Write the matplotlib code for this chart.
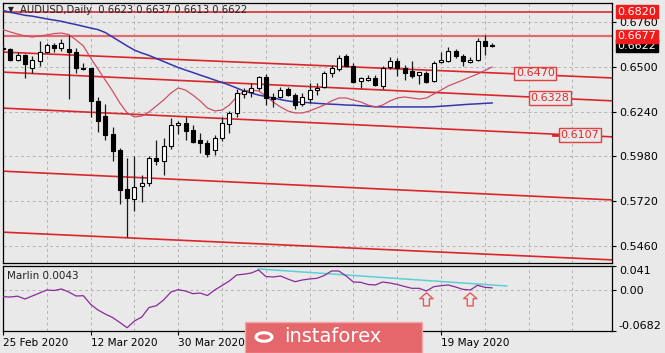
import numpy as np
import matplotlib.pyplot as plt
from matplotlib.patches import Rectangle, Circle
from matplotlib.transforms import blended_transform_factory

# daily AUDUSD bars, 25 Feb 2020 .. 28 May 2020
opens = [0.6610, 0.6603, 0.6539, 0.6568, 0.6491, 0.6534, 0.6584, 0.6627, 0.6611, 0.6603,
         0.6588, 0.6491, 0.6491, 0.6302, 0.6215, 0.6108, 0.6017, 0.5791, 0.5731, 0.5808,
         0.5824, 0.5969, 0.5955, 0.6040, 0.6160, 0.6176, 0.6133, 0.6075, 0.6060, 0.6017,
         0.6085, 0.6166, 0.6230, 0.6342, 0.6355, 0.6375, 0.6443, 0.6327, 0.6327, 0.6369,
         0.6336, 0.6284, 0.6311, 0.6365, 0.6384, 0.6462, 0.6485, 0.6563, 0.6505, 0.6419,
         0.6425, 0.6435, 0.6387, 0.6497, 0.6532, 0.6493, 0.6477, 0.6454, 0.6464, 0.6416,
         0.6526, 0.6532, 0.6593, 0.6561, 0.6528, 0.6541, 0.6651, 0.6623]
highs = [0.6625, 0.6609, 0.6588, 0.6574, 0.6564, 0.6650, 0.6636, 0.6636, 0.6661, 0.6685,
         0.6607, 0.6520, 0.6495, 0.6327, 0.6282, 0.6152, 0.6027, 0.5971, 0.5984, 0.5872,
         0.5982, 0.6075, 0.6085, 0.6201, 0.6187, 0.6207, 0.6162, 0.6118, 0.6075, 0.6104,
         0.6207, 0.6245, 0.6369, 0.6375, 0.6408, 0.6447, 0.6456, 0.6350, 0.6384, 0.6384,
         0.6350, 0.6346, 0.6404, 0.6404, 0.6477, 0.6510, 0.6568, 0.6574, 0.6520, 0.6439,
         0.6454, 0.6454, 0.6503, 0.6555, 0.6551, 0.6512, 0.6532, 0.6470, 0.6477, 0.6532,
         0.6586, 0.6613, 0.6605, 0.6574, 0.6555, 0.6667, 0.6686, 0.6637]
lows = [0.6590, 0.6533, 0.6535, 0.6435, 0.6462, 0.6506, 0.6578, 0.6588, 0.6592, 0.6313,
        0.6462, 0.6481, 0.6210, 0.6120, 0.6075, 0.5953, 0.5702, 0.5512, 0.5665, 0.5717,
        0.5808, 0.5930, 0.5872, 0.6021, 0.6110, 0.6075, 0.6060, 0.6001, 0.5978, 0.5988,
        0.6069, 0.6118, 0.6210, 0.6317, 0.6323, 0.6365, 0.6278, 0.6268, 0.6317, 0.6331,
        0.6253, 0.6274, 0.6288, 0.6336, 0.6375, 0.6443, 0.6477, 0.6497, 0.6408, 0.6375,
        0.6420, 0.6387, 0.6371, 0.6489, 0.6445, 0.6425, 0.6435, 0.6400, 0.6406, 0.6410,
        0.6522, 0.6526, 0.6551, 0.6506, 0.6522, 0.6535, 0.6570, 0.6613]
closes = [0.6603, 0.6539, 0.6568, 0.6515, 0.6539, 0.6584, 0.6627, 0.6611, 0.6636, 0.6588,
          0.6495, 0.6485, 0.6302, 0.6185, 0.6104, 0.6011, 0.5785, 0.5739, 0.5804, 0.5827,
          0.5969, 0.5955, 0.6040, 0.6162, 0.6176, 0.6127, 0.6065, 0.6060, 0.5992, 0.6085,
          0.6172, 0.6230, 0.6346, 0.6361, 0.6379, 0.6443, 0.6317, 0.6311, 0.6365, 0.6336,
          0.6278, 0.6323, 0.6365, 0.6379, 0.6466, 0.6491, 0.6549, 0.6505, 0.6414, 0.6433,
          0.6433, 0.6396, 0.6493, 0.6532, 0.6493, 0.6464, 0.6445, 0.6468, 0.6410, 0.6522,
          0.6541, 0.6593, 0.6561, 0.6532, 0.6541, 0.6651, 0.6619, 0.6622]

ma_fast = [0.6716, 0.6702, 0.6690, 0.6679, 0.6673, 0.6679, 0.6685, 0.6693, 0.6696, 0.6687,
           0.6656, 0.6621, 0.6551, 0.6487, 0.6423, 0.6360, 0.6290, 0.6232, 0.6209, 0.6214,
           0.6238, 0.6273, 0.6307, 0.6348, 0.6377, 0.6365, 0.6336, 0.6302, 0.6261, 0.6244,
           0.6249, 0.6278, 0.6325, 0.6360, 0.6365, 0.6360, 0.6331, 0.6296, 0.6267, 0.6244,
           0.6232, 0.6232, 0.6244, 0.6261, 0.6278, 0.6302, 0.6319, 0.6319, 0.6307, 0.6296,
           0.6278, 0.6267, 0.6278, 0.6302, 0.6319, 0.6325, 0.6319, 0.6313, 0.6319, 0.6342,
           0.6365, 0.6389, 0.6406, 0.6423, 0.6441, 0.6458, 0.6479, 0.6499]
ma_slow = [0.6827, 0.6816, 0.6808, 0.6799, 0.6794, 0.6786, 0.6778, 0.6771, 0.6764, 0.6754,
           0.6745, 0.6735, 0.6725, 0.6716, 0.6699, 0.6673, 0.6647, 0.6621, 0.6597, 0.6580,
           0.6566, 0.6548, 0.6531, 0.6513, 0.6496, 0.6481, 0.6467, 0.6452, 0.6438, 0.6423,
           0.6409, 0.6394, 0.6377, 0.6360, 0.6348, 0.6336, 0.6328, 0.6319, 0.6310, 0.6302,
           0.6296, 0.6294, 0.6291, 0.6288, 0.6285, 0.6283, 0.6281, 0.6278, 0.6277, 0.6274,
           0.6271, 0.6268, 0.6267, 0.6267, 0.6267, 0.6267, 0.6267, 0.6267, 0.6267, 0.6268,
           0.6271, 0.6274, 0.6277, 0.6280, 0.6283, 0.6285, 0.6288, 0.6290]

marlin = [-0.0106, -0.0111, -0.0097, -0.0145, -0.0094, -0.0044, 0.0007, -0.0002, 0.0024, -0.0027,
          -0.0094, -0.0089, -0.0234, -0.0329, -0.0397, -0.0455, -0.0539, -0.0627, -0.0514, -0.0447,
          -0.0287, -0.0257, -0.0161, -0.0027, 0.0012, -0.0010, -0.0055, -0.0044, -0.0086, 0.0007,
          0.0082, 0.0158, 0.0259, 0.0272, 0.0292, 0.0343, 0.0234, 0.0225, 0.0242, 0.0192,
          0.0146, 0.0175, 0.0192, 0.0203, 0.0250, 0.0326, 0.0326, 0.0242, 0.0141, 0.0136,
          0.0099, 0.0091, 0.0141, 0.0124, 0.0099, 0.0066, 0.0035, 0.0035, -0.0010, 0.0062,
          0.0079, 0.0091, 0.0057, 0.0018, 0.0007, 0.0086, 0.0052, 0.0043]

# channel lines: price at left edge / right edge of the chart
chan_x = [-0.4, 83.6]
chan_start = [0.6586, 0.6470, 0.6261, 0.5895, 0.5541]
chan_end = [0.6435, 0.6302, 0.6093, 0.5727, 0.5379]
levels = [0.6820, 0.6677]
level_tags = ["0.6470", "0.6328", "0.6107"]
marlin_trend_x = [35, 69]
marlin_trend_y = [0.0360, 0.0074]
arrow_x = [58, 64]
arrow_y = [-0.0150, -0.0150]

# 15 Apr and 1 May sit under the watermark, so their labels stay blank
date_pos = [0, 12, 24, 36, 48, 60]
date_labels = ["25 Feb 2020", "12 Mar 2020", "30 Mar 2020", "", "", "19 May 2020"]
price_ticks = [0.6760, 0.6500, 0.6240, 0.5980, 0.5720, 0.5460]

bg = '#e9e9e9'
fig = plt.figure(figsize=(6.65, 3.53), dpi=100)
fig.patch.set_facecolor(bg)
ax = fig.add_axes([0.0038, 0.2550, 0.9165, 0.7365])
ax2 = fig.add_axes([0.0038, 0.0623, 0.9165, 0.1842], sharex=ax)

for a in (ax, ax2):
    a.set_facecolor(bg)
    for s in a.spines.values():
        s.set_color('black')
        s.set_linewidth(0.9)
    for gx in range(0, 90, 6):
        a.axvline(gx, color='#b4b4b4', lw=0.7, ls=(0, (3, 3)), zorder=0)

x = np.arange(len(opens))
o = np.array(opens); c = np.array(closes)
h = np.array(highs); l = np.array(lows)
up = c >= o
bot = np.minimum(o, c)
hgt = np.maximum(np.abs(c - o), 0.0003)

ax.vlines(x, l, h, color='#1a1a1a', lw=0.9, zorder=4)
ax.bar(x[up], hgt[up], bottom=bot[up], width=0.55, color='white', edgecolor='black', lw=0.8, zorder=5)
ax.bar(x[~up], hgt[~up], bottom=bot[~up], width=0.55, color='black', edgecolor='black', lw=0.8, zorder=5)

ax.plot(x, ma_slow, color='#3535b0', lw=1.1, zorder=3)
ax.plot(x, ma_fast, color='#d0485e', lw=0.85, zorder=3)

for s, e in zip(chan_start, chan_end):
    ax.plot(chan_x, [s, e], color='#d9262a', lw=1.2, zorder=2)
ax.axhline(levels[0], color='#d32026', lw=1.1, zorder=2)
ax.axhline(levels[1], color='#e06a6e', lw=1.6, zorder=2)

for py in price_ticks:
    ax.axhline(py, color='#b4b4b4', lw=0.7, ls=(0, (3, 3)), zorder=0)

# tags on the channel lines
tag_pos = [(72.9, 0.6463), (74.9, 0.6319), (79.0, 0.6104)]
for t, (tx, ty) in zip(level_tags, tag_pos):
    ax.text(tx, ty, t, color='#e02a2a', fontsize=8, ha='center', va='center', zorder=6,
            bbox=dict(boxstyle='square,pad=0.15', fc=bg, ec='#e04040', lw=1.0))
ax.plot([75.3, 76.7], [0.6104, 0.6104], color='#d9262a', lw=2, zorder=5)

ax.set_xlim(-0.07, 83.42)
ax.set_ylim(0.53613, 0.68703)
ax.yaxis.tick_right()
ax.set_yticks(price_ticks)
ax.set_yticklabels([f"{p:.4f}" for p in price_ticks])
ax.tick_params(axis='y', length=3, width=0.8, labelsize=8, pad=2, colors='black')
ax.tick_params(axis='x', bottom=False, labelbottom=False)

tr = blended_transform_factory(ax.transAxes, ax.transData)
ax.text(1.009, 0.6622, "0.6622", transform=tr, color='white', fontsize=8, va='center', ha='left',
        zorder=7, clip_on=False, bbox=dict(boxstyle='square,pad=0.12', fc='black', ec='black'))
for lv in levels:
    ax.text(1.009, lv, f"{lv:.4f}", transform=tr, color='white', fontsize=8, va='center', ha='left',
            zorder=8, clip_on=False, bbox=dict(boxstyle='square,pad=0.12', fc='#f01c1c', ec='#f01c1c'))

ax.text(0.009, 0.975, "\u25BC", transform=ax.transAxes, fontsize=5.5, va='center', ha='left', color='#222222')
ax.text(0.028, 0.973, "AUDUSD,Daily  0.6623 0.6637 0.6613 0.6622", transform=ax.transAxes,
        fontsize=7.2, va='center', ha='left', color='#222222')

# Marlin panel
ax2.axhline(0, color='#b4b4b4', lw=0.7, ls=(0, (3, 3)), zorder=0)
ax2.plot(x, marlin, color='#8a2a9a', lw=0.9, zorder=3)
ax2.plot(marlin_trend_x, marlin_trend_y, color='#5ccfd6', lw=1.1, zorder=2)
arrow = [(0, 1), (-1, 0.1), (-0.45, 0.1), (-0.45, -1), (0.45, -1), (0.45, 0.1), (1, 0.1), (0, 1)]
ax2.scatter(arrow_x, arrow_y, marker=arrow, s=90, facecolors='none', edgecolors='#e8585c', lw=1.0, zorder=4)
ax2.text(0.008, 0.85, "Marlin 0.0043", transform=ax2.transAxes, fontsize=7.5, va='center', ha='left', color='#222222')
ax2.set_ylim(-0.0682, 0.041)
ax2.yaxis.tick_right()
ax2.set_yticks([-0.0682, 0.0, 0.041])
ax2.set_yticklabels(["-0.0682", "0.00", "0.041"])
ax2.tick_params(axis='y', length=3, width=0.8, labelsize=8, pad=2)
ylab = ax2.get_yticklabels()
ylab[0].set_va('bottom')
ylab[2].set_va('top')
ax2.set_xticks(date_pos)
ax2.set_xticklabels(date_labels, ha='left')
ax2.tick_params(axis='x', length=3, width=0.8, labelsize=7.6, pad=2)

# watermark
fig.patches.append(Rectangle((245 / 665, 0), 177 / 665, 31 / 353, transform=fig.transFigure,
                             fc='#e4686b', ec='#f2a8a8', lw=1.0, zorder=10))
fig.patches.append(Circle((264 / 665, 16 / 353), 0.012, transform=fig.transFigure,
                          fc='none', ec='white', lw=2.2, zorder=11))
fig.text(0.50, 16 / 353, "instaforex", color='white', fontsize=14, ha='center', va='center', zorder=12)

fig.savefig('out.png', dpi=100, facecolor=bg)
